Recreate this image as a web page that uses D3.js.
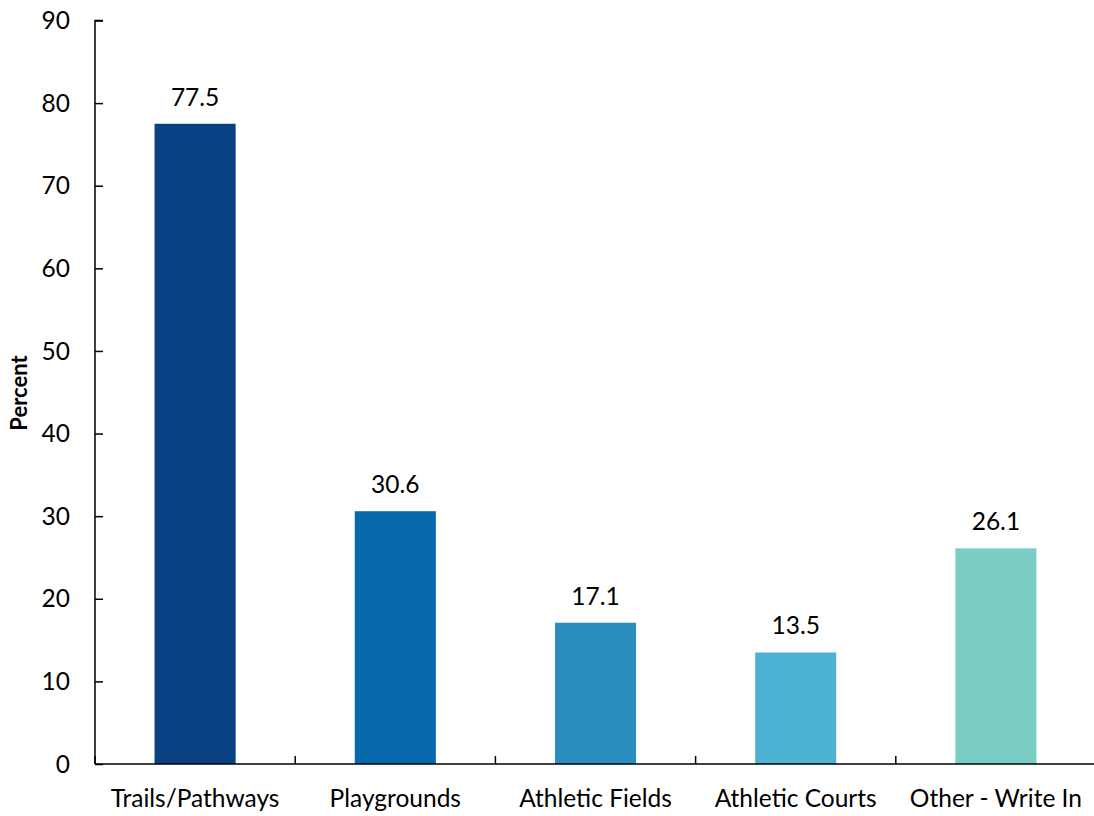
<!DOCTYPE html>
<html>
<head>
<meta charset="utf-8">
<script src="https://cdn.jsdelivr.net/npm/d3@7"></script>
<style>
  html, body { margin: 0; padding: 0; background: #fff; }
  svg { display: block; }
  text { font-family: Lato, "Open Sans", sans-serif; fill: #000; }
</style>
</head>
<body>
<svg id="chart" width="1094" height="816"></svg>
<script>
const categories = ["Trails/Pathways", "Playgrounds", "Athletic Fields", "Athletic Courts", "Other - Write In"];
const values = [77.5, 30.6, 17.1, 13.5, 26.1];
const colors = ["#084081", "#0868ac", "#2b8cbe", "#4eb3d3", "#7bccc4"];
const yTicks = [0, 10, 20, 30, 40, 50, 60, 70, 80, 90];
const yTitle = "Percent";

const svg = d3.select("#chart");
const fs = 24.5;

const x = d3.scaleBand().domain(categories).range([95, 1096]).paddingInner(0.595).paddingOuter(0.2975);
const y = d3.scaleLinear().domain([0, 90]).range([764, 20.5]);

// Bars
svg.append("g").selectAll("rect").data(values).join("rect")
  .attr("x", (d, i) => x(categories[i]))
  .attr("width", x.bandwidth())
  .attr("y", d => y(d))
  .attr("height", d => y(0) - y(d))
  .attr("fill", (d, i) => colors[i]);

// Value labels
svg.append("g").selectAll("text").data(values).join("text")
  .attr("x", (d, i) => x(categories[i]) + x.bandwidth() / 2)
  .attr("y", d => y(d) - 18)
  .attr("text-anchor", "middle")
  .style("font-size", fs + "px")
  .text(d => d.toFixed(1));

// Y axis
const yAxis = svg.append("g").attr("transform", "translate(95,0)")
  .call(d3.axisRight(y).tickValues(yTicks).tickSize(8).tickFormat(""));
yAxis.selectAll("path, line").attr("stroke", "#000").attr("stroke-width", 1.5);
yAxis.select(".domain").attr("d", `M8,${y(90)}H0V${y(0)}`);

svg.append("g").selectAll("text").data(yTicks).join("text")
  .attr("x", 70)
  .attr("y", d => y(d))
  .attr("dy", "0.35em")
  .attr("text-anchor", "end")
  .style("font-size", fs + "px")
  .text(d => d);

// X axis (category boundaries, ticks upward)
const bounds = d3.range(categories.length + 1).map(i => 95 + i * x.step());
const xg = svg.append("g");
xg.append("line").attr("x1", 95).attr("x2", 1096).attr("y1", y(0)).attr("y2", y(0))
  .attr("stroke", "#000").attr("stroke-width", 1.5);
xg.selectAll("line.t").data(bounds).join("line").attr("class", "t")
  .attr("x1", d => d).attr("x2", d => d)
  .attr("y1", y(0)).attr("y2", y(0) - 8)
  .attr("stroke", "#000").attr("stroke-width", 1.5);

svg.append("g").selectAll("text").data(categories).join("text")
  .attr("x", d => x(d) + x.bandwidth() / 2)
  .attr("y", 807)
  .attr("text-anchor", "middle")
  .style("font-size", fs + "px")
  .text(d => d);

// Y title
svg.append("text")
  .attr("transform", "translate(27,393) rotate(-90)")
  .attr("text-anchor", "middle")
  .style("font-size", "22px")
  .style("font-weight", "bold")
  .text(yTitle);
</script>
</body>
</html>
